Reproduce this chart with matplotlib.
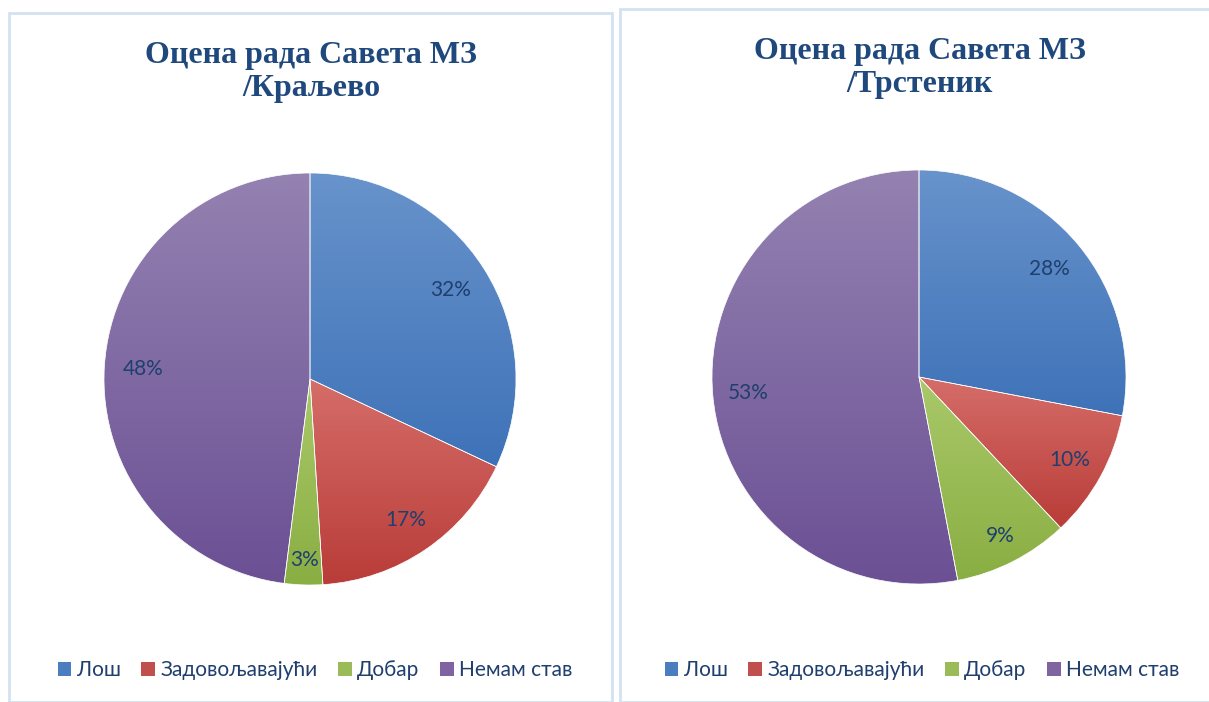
import numpy as np
import matplotlib
matplotlib.use("Agg")
import matplotlib.pyplot as plt
from matplotlib.colors import LinearSegmentedColormap
from matplotlib.patches import Rectangle

W, H = 1209, 702
fig = plt.figure(figsize=(W / 100, H / 100), dpi=100)
fig.patch.set_facecolor("white")

categories = ["Лош", "Задовољавајући", "Добар", "Немам став"]
titles = ["Оцена рада Савета МЗ\n/Краљево", "Оцена рада Савета МЗ\n/Трстеник"]
values_kraljevo = [32, 17, 3, 48]
values_trstenik = [28, 10, 9, 53]

# (top colour, bottom colour) per category – Excel-like gradient
grad_colors = [("#6893cb", "#3e72b8"),
               ("#d56d69", "#b93c38"),
               ("#aac96a", "#89ae42"),
               ("#9482b1", "#6b5094")]
legend_colors = ["#4a7ebf", "#c0504d", "#9bbb59", "#8064a2"]
text_color = "#1f3f6e"
title_color = "#1f497d"
border_color = "#d3e1f1"

# panel borders (pixel boxes)
panels = [(9, 13, 612, 702), (620, 9, 1212, 702)]
for (x0, y0, x1, y1) in panels:
    fig.patches.append(Rectangle((x0 / W, 1 - y1 / H), (x1 - x0) / W, (y1 - y0) / H,
                                 transform=fig.transFigure, fill=False,
                                 edgecolor=border_color, linewidth=2))

pies = [
    dict(values=values_kraljevo, title=titles[0], cx=310, cy=379, r=206,
         tx=311, ty=72, lx=315, pct=[0.81, 0.83, 0.88, 0.81]),
    dict(values=values_trstenik, title=titles[1], cx=919, cy=377, r=207,
         tx=920, ty=68, lx=922, pct=[0.82, 0.83, 0.86, 0.83]),
]

for p in pies:
    r = p["r"]
    ax = fig.add_axes([(p["cx"] - r) / W, 1 - (p["cy"] + r) / H, 2 * r / W, 2 * r / H])
    wedges, _ = ax.pie(p["values"], startangle=90, counterclock=False,
                       colors=legend_colors,
                       wedgeprops=dict(edgecolor="white", linewidth=0.5))
    total = sum(p["values"])
    # gradient fill
    for w, (c_top, c_bot) in zip(wedges, grad_colors):
        bb = w.get_path().get_extents()
        cmap = LinearSegmentedColormap.from_list("g", [c_bot, c_top])
        grad = np.linspace(0, 1, 256).reshape(-1, 1)
        im = ax.imshow(grad, cmap=cmap, origin="lower", aspect="auto",
                       extent=[bb.x0, bb.x1, bb.y0, bb.y1], zorder=w.get_zorder() + 0.1)
        im.set_clip_path(w)
        w.set_facecolor("none")
        w.set_zorder(w.get_zorder() + 0.2)
    ax.set_xlim(-1, 1)
    ax.set_ylim(-1, 1)
    ax.set_aspect("equal")
    ax.axis("off")
    # percentage labels
    for w, v, d in zip(wedges, p["values"], p["pct"]):
        ang = np.deg2rad((w.theta1 + w.theta2) / 2)
        ax.text(d * np.cos(ang), d * np.sin(ang), f"{round(100 * v / total)}%",
                ha="center", va="center", fontsize=15, color=text_color,
                family="Lato", zorder=10)
    # title
    fig.text(p["tx"] / W, 1 - p["ty"] / H, p["title"], ha="center", va="center",
             fontsize=23, fontweight="bold", family="Liberation Serif",
             color=title_color, linespacing=1.16)
    # legend
    handles = [Rectangle((0, 0), 1, 1, facecolor=c, edgecolor="none") for c in legend_colors]
    fig.legend(handles, categories, loc="center", ncol=4,
               bbox_to_anchor=(p["lx"] / W, 1 - 670 / H), frameon=False,
               handlelength=0.65, handleheight=0.65, handletextpad=0.25,
               columnspacing=1.0, prop=dict(family="Lato", size=15),
               labelcolor=text_color)

fig.savefig("out.png", dpi=100, facecolor="white")
